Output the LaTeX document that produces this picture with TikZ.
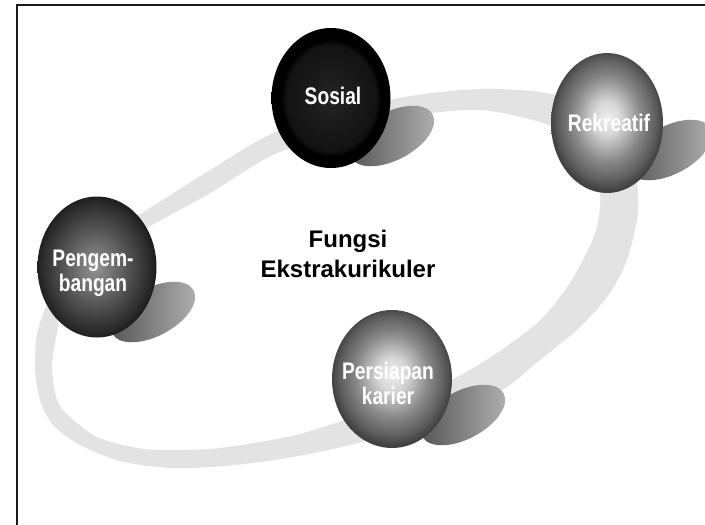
\documentclass[tikz,border=0pt]{standalone}
\usepackage{fontspec}
\setmainfont{Liberation Sans}
\newfontfamily\narrowfont{Liberation Sans}[FakeStretch=0.8]
\usepackage{tikz}
\usetikzlibrary{shapes.geometric}

\pgfdeclareradialshading{brightball}{\pgfpoint{0bp}{2bp}}{color(0bp)=(black!6); color(6bp)=(black!16); color(15bp)=(black!46); color(22bp)=(black!64); color(25bp)=(black!74); color(50bp)=(black!74)}
\pgfdeclareradialshading{darkball}{\pgfpoint{-1bp}{0bp}}{color(0bp)=(black!42); color(12bp)=(black!64); color(22bp)=(black!82); color(25bp)=(black!88); color(50bp)=(black!88)}
\pgfdeclareradialshading{blackball}{\pgfpoint{0bp}{0bp}}{color(0bp)=(black!86); color(19bp)=(black!93); color(21bp)=(black); color(50bp)=(black)}

\begin{document}
\begin{tikzpicture}[x=1pt,y=-1pt,
  bubble/.style={ellipse,inner sep=0pt,minimum height=140pt,shade},
  blob/.style={ellipse,inner sep=0pt,minimum width=92pt,minimum height=48pt,rotate=28,left color=black!68,right color=black!30},
  bubtext/.style={text=white,align=center,inner sep=0pt,font=\narrowfont\bfseries\fontsize{24}{25}\selectfont}]
\useasboundingbox (0,0) rectangle (705,525);
\draw[line width=2pt,black!90] (17,525) -- (17,5) -- (705,5);
% ring
\fill[black!11,even odd rule]
  plot[smooth cycle] coordinates {(35,367) (40,400) (53,425) (80,445) (120,461) (170,468) (225,466) (287,458) (350,445) (420,424) (470,405) (507,387) (540,360) (580,327) (610,293) (627,260) (637,220) (638,193) (634,165) (615,128) (580,103) (540,92) (480,89) (410,96) (340,112) (273,133) (207,172) (147,210) (95,245) (55,290) (38,330)}
  plot[smooth cycle] coordinates {(52,367) (57,400) (70,417) (97,437) (137,448) (170,450) (220,448) (287,437) (320,428) (360,415) (410,397) (457,377) (497,353) (537,323) (563,293) (583,260) (597,227) (600,193) (590,160) (565,135) (540,122) (480,110) (410,116) (340,133) (273,155) (207,195) (147,228) (100,260) (65,300) (57,333)};
% shadows
\node[blob] (sosb) at (392,136) {};
\node[blob] (rekb) at (670,150) {};
\node[blob] (pengb) at (153,312) {};
\node[blob] (persb) at (463,415) {};
% balls
\node[bubble,shading=blackball,minimum width=119pt] (sosial) at (331,98) {};
\node[bubble,shading=brightball,minimum width=112pt] (rekreatif) at (607,123) {};
\node[bubble,shading=darkball,minimum width=119pt,minimum height=141pt] (pengembangan) at (97,267) {};
\node[bubble,shading=brightball,minimum width=120pt,minimum height=138pt] (persiapan) at (392,379) {};
\node[bubtext] (sost) at (333,96) {Sosial};
\node[bubtext] (rekt) at (609,123) {Rekreatif};
\node[bubtext] (pengt) at (93,273) {Pengem-\\bangan};
\node[bubtext] (perst) at (388,383) {Persiapan\\karier};
\node[align=center,inner sep=0pt,font=\bfseries\fontsize{24}{30}\selectfont] (fungsi) at (348,254) {Fungsi\\Ekstrakurikuler};
\end{tikzpicture}
\end{document}
